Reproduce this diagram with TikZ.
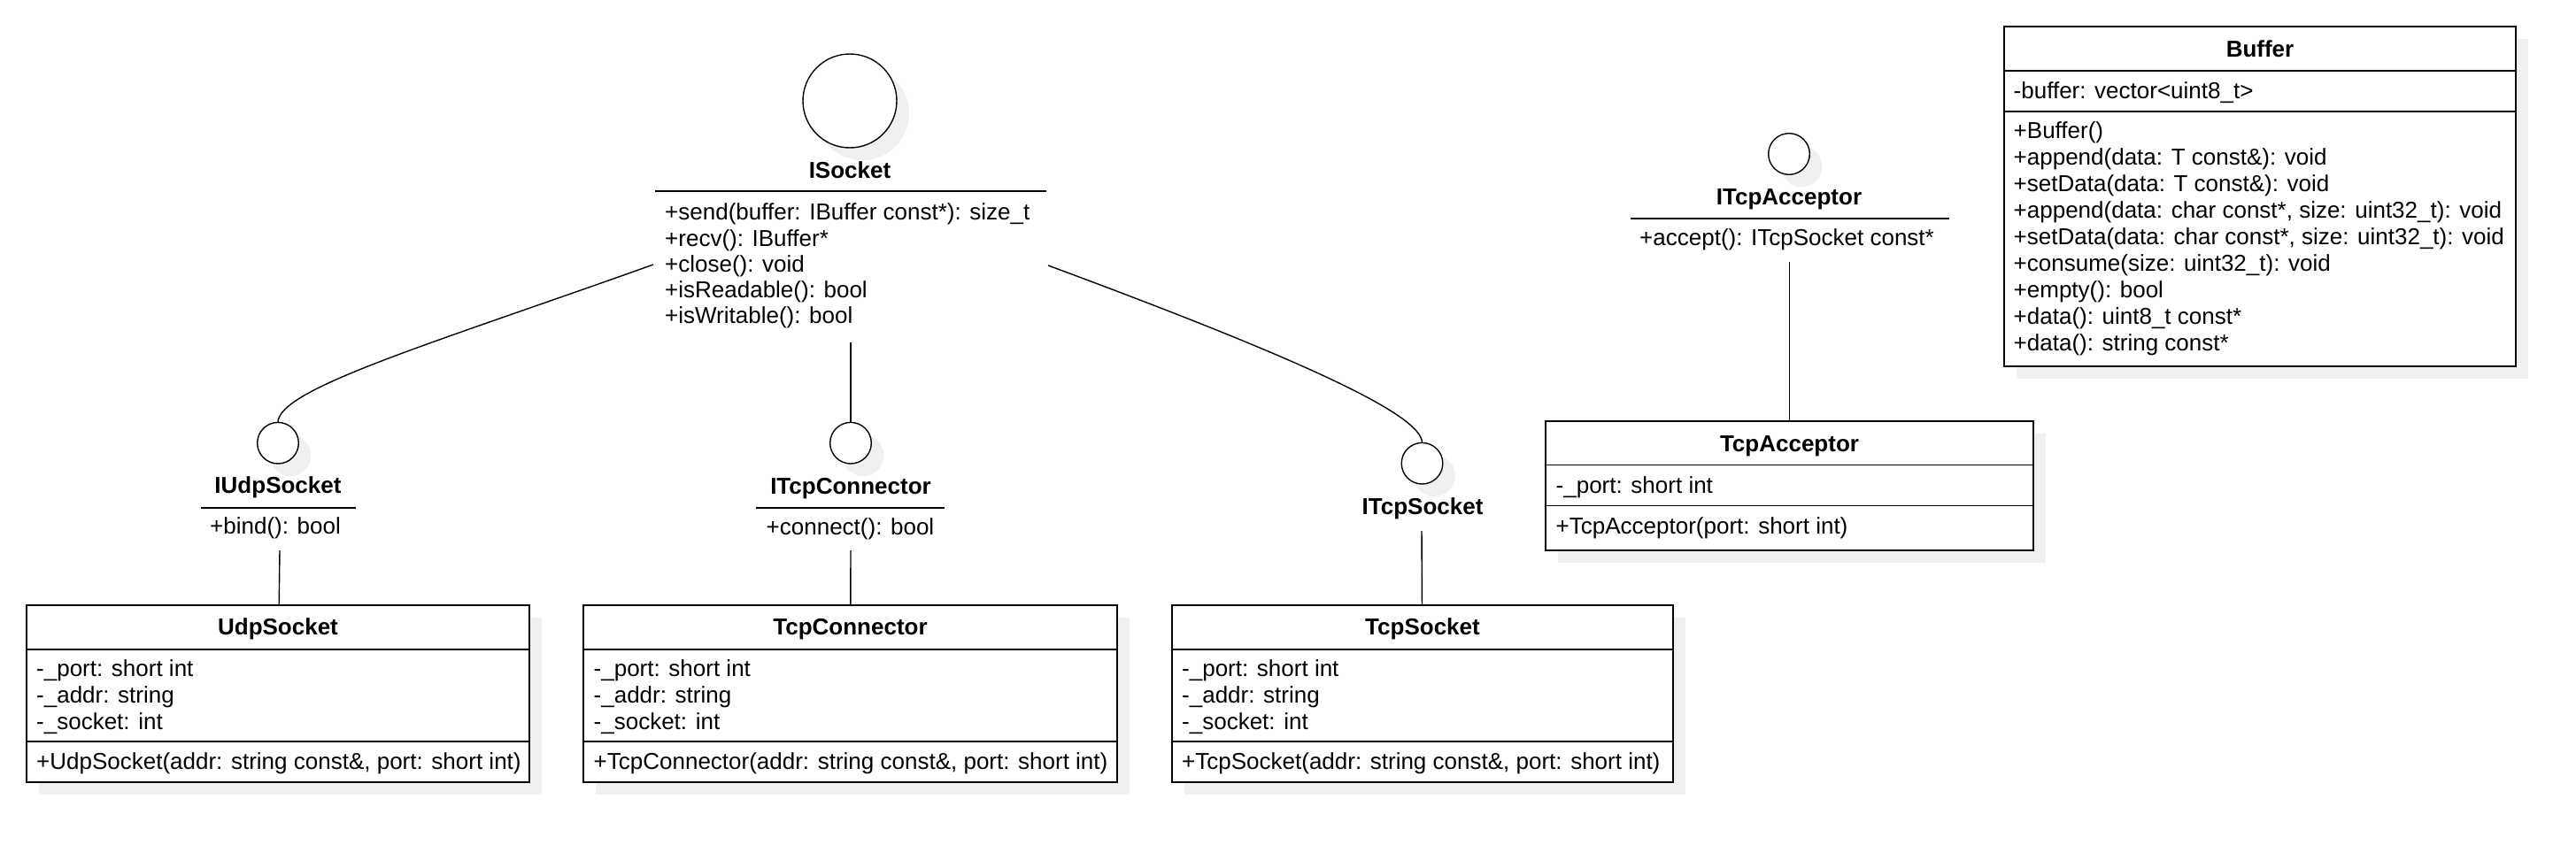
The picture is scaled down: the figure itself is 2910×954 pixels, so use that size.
\documentclass[tikz,border=0pt]{standalone}
\usepackage{fontspec}
\setmainfont{Liberation Sans}
\usetikzlibrary{shadows}

\tikzset{
  uml/.style={draw, fill=white, inner sep=0pt, outer sep=0pt,
    drop shadow={shadow xshift=14pt, shadow yshift=-14pt, fill=black!6, opacity=1}},
  classbox/.style={uml, rectangle, line width=1.7pt},
  iface/.style={uml, circle, line width=1.4pt, minimum size=46.6pt},
  classname/.style={font=\bfseries, inner sep=0pt, text height=24pt, text depth=5pt},
  member/.style={anchor=west, inner sep=0pt, text height=24pt, text depth=5pt},
  divider/.style={line width=1.7pt},
  assoc/.style={line width=1.4pt}
}

\begin{document}
\fontsize{26pt}{30pt}\selectfont
\begin{tikzpicture}[x=1pt, y=-1pt]
\path[fill=white] (0,0) rectangle (2910,954);

% interfaces
\node[iface, minimum size=106pt] (isock) at (960,114) {};
\node[classname] (isock-name) at (960,192) {ISocket};
\draw[divider] (740,216) -- (1182,216);
\foreach \m [count=\i] in {+send(buffer: IBuffer const*): size\_t, +recv(): IBuffer*,
    +close(): void, +isReadable(): bool, +isWritable(): bool}
  \node[member] (isock-op\i) at (751,210+29.25*\i) {\m};
\coordinate (isock-l) at (738,299);
\coordinate (isock-m) at (961,387);
\coordinate (isock-r) at (1184,300);

\node[iface] (iudp) at (314,500.7) {};
\node[classname] (iudp-name) at (314,548) {IUdpSocket};
\draw[divider] (226.5,574) -- (402,574);
\node[member] (iudp-op) at (237,594) {+bind(): bool};
\coordinate (iudp-foot) at (316,622);

\node[iface] (itcpc) at (961,500.7) {};
\node[classname] (itcpc-name) at (961,549) {ITcpConnector};
\draw[divider] (854,574) -- (1067,574);
\node[member] (itcpc-op) at (865.5,595) {+connect(): bool};
\coordinate (itcpc-foot) at (961,622);

\node[iface] (itcps) at (1606.5,523.7) {};
\node[classname] (itcps-name) at (1607,572) {ITcpSocket};
\coordinate (itcps-foot) at (1606,600);

\node[iface] (itcpa) at (2021,174) {};
\node[classname] (itcpa-name) at (2021,222) {ITcpAcceptor};
\draw[divider] (1842,246.7) -- (2202,246.7);
\node[member] (itcpa-op) at (1852,268) {+accept(): ITcpSocket const*};
\coordinate (itcpa-foot) at (2021.5,296);

% classes
\node[classbox, minimum width=568pt, minimum height=200pt] (udp) at (314,784) {};
\node[classbox, minimum width=603pt, minimum height=200pt] (tcpc) at (960.5,784) {};
\node[classbox, minimum width=566pt, minimum height=200pt] (tcps) at (1607,784) {};
\node[classbox, minimum width=551pt, minimum height=146pt] (tcpa) at (2021.5,549) {};
\node[classbox, minimum width=578pt, minimum height=384pt] (buf) at (2553,222) {};

\foreach \b in {udp,tcpc,tcps}
{
  \draw[divider] (\b.west |- 0,734) -- (\b.east |- 0,734);
  \draw[divider] (\b.west |- 0,838) -- (\b.east |- 0,838);
}
\draw[divider] (tcpa.west |- 0,525.5) -- (tcpa.east |- 0,525.5);
\draw[divider] (tcpa.west |- 0,571.5) -- (tcpa.east |- 0,571.5);
\draw[divider] (buf.west |- 0,80) -- (buf.east |- 0,80);
\draw[divider] (buf.west |- 0,126) -- (buf.east |- 0,126);

\node[classname] (udp-name) at (314,708) {UdpSocket};
\node[classname] (tcpc-name) at (960.5,708) {TcpConnector};
\node[classname] (tcps-name) at (1607,708) {TcpSocket};
\node[classname] (tcpa-name) at (2021.5,500.5) {TcpAcceptor};
\node[classname] (buf-name) at (2553,55) {Buffer};

\foreach \b/\x in {udp/41,tcpc/670.5,tcps/1335}
  \foreach \m [count=\i] in {-\_port: short int, -\_addr: string, -\_socket: int}
    \node[member] (\b-a\i) at (\x,724.5+30*\i) {\m};
\node[member] (udp-op) at (41,860) {+UdpSocket(addr: string const\&, port: short int)};
\node[member] (tcpc-op) at (670.5,860) {+TcpConnector(addr: string const\&, port: short int)};
\node[member] (tcps-op) at (1335,860) {+TcpSocket(addr: string const\&, port: short int)};

\node[member] (tcpa-a1) at (1757.5,548) {-\_port: short int};
\node[member] (tcpa-op) at (1757.5,594) {+TcpAcceptor(port: short int)};

\node[member] (buf-a1) at (2274.5,101.5) {-buffer: vector<uint8\_t>};
\foreach \m [count=\i] in {+Buffer(), +append(data: T const\&): void, +setData(data: T const\&): void,
    {+append(data: char const*, size: uint32\_t): void}, {+setData(data: char const*, size: uint32\_t): void},
    +consume(size: uint32\_t): void, +empty(): bool, +data(): uint8\_t const*, +data(): string const*}
  \node[member] (buf-op\i) at (2274.5,117+30*\i) {\m};

% realizations
\draw[assoc] (isock-l) .. controls +(-250,89.5) and +(0,-38) .. (iudp.north);
\draw[assoc] (isock-m) -- (itcpc.north);
\draw[assoc] (isock-r) .. controls +(300,111) and +(0,-30) .. (itcps.north);
\foreach \from/\to in {iudp-foot/udp,itcpc-foot/tcpc,itcps-foot/tcps,itcpa-foot/tcpa}
{
  \draw[assoc] (\from) -- (\to);
}
\end{tikzpicture}
\end{document}
